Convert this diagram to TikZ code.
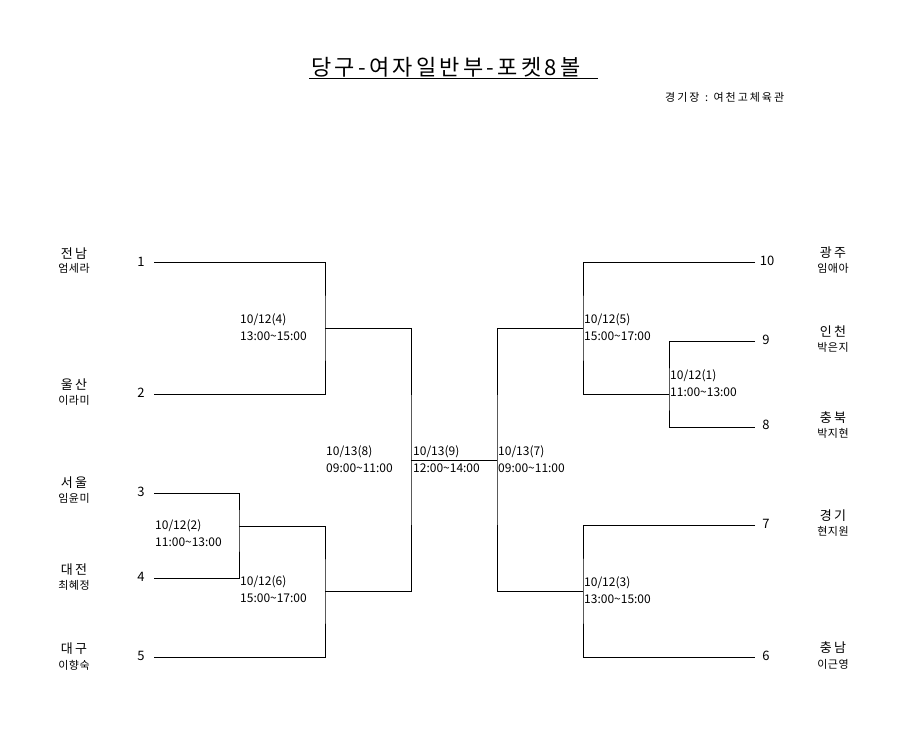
\documentclass[tikz,border=0pt]{standalone}
\usepackage{fontspec}
\setmainfont{Noto Sans CJK KR}
\usetikzlibrary{positioning}

\begin{document}
\begin{tikzpicture}[
    x=1pt,y=-1pt,
    bline/.style={line width=0.8pt},
    region/.style={inner sep=0pt,font=\fontsize{13}{15}\selectfont\addfontfeature{LetterSpace=18}},
    player/.style={inner sep=0pt,font=\fontsize{11}{12}\selectfont\addfontfeature{LetterSpace=5}},
    seed/.style={inner sep=0pt,font=\fontsize{13}{15}\selectfont},
    match/.style={inner sep=0pt,anchor=west,align=left,font=\fontsize{12}{17}\selectfont}
]
    \useasboundingbox (0,0) rectangle (900,750);

    % Title
    \node[inner sep=0pt,anchor=west,font=\fontsize{22}{26}\selectfont\addfontfeature{LetterSpace=15}] (title) at (311,67) {당구-여자일반부-포켓8볼};
    \coordinate (ul_l) at (309,78);
    \coordinate (ul_r) at (598,78);
    \draw[bline] (ul_l) -- (ul_r);
    \node[inner sep=0pt,anchor=west,font=\fontsize{11}{13}\selectfont\addfontfeature{LetterSpace=18}] (venue) at (665,97) {경기장\enspace{}:\enspace{}여천고체육관};

    % Left side entries
    \node[region] (r1) at (74,254) {전남};
    \node[player] (p1) at (74,268) {엄세라};
    \node[seed] (n1) at (141,262) {1};
    \node[region] (r2) at (74,385) {울산};
    \node[player] (p2) at (74,400) {이라미};
    \node[seed] (n2) at (141,393) {2};
    \node[region] (r3) at (74,483) {서울};
    \node[player] (p3) at (74,498) {임윤미};
    \node[seed] (n3) at (141,492) {3};
    \node[region] (r4) at (74,570) {대전};
    \node[player] (p4) at (74,585) {최혜정};
    \node[seed] (n4) at (141,577) {4};
    \node[region] (r5) at (74,649) {대구};
    \node[player] (p5) at (74,665) {이향숙};
    \node[seed] (n5) at (141,656) {5};

    \coordinate (s1) at (154,262);
    \coordinate (s2) at (154,394);
    \coordinate (s3) at (154,493);
    \coordinate (s4) at (154,578);
    \coordinate (s5) at (154,657);

    % Right side entries
    \node[region] (r10) at (833,253) {광주};
    \node[player] (p10) at (833,268) {임애아};
    \node[seed] (n10) at (767,261) {10};
    \node[region] (r9) at (833,332) {인천};
    \node[player] (p9) at (833,347) {박은지};
    \node[seed] (n9) at (766,340) {9};
    \node[region] (r8) at (833,418) {충북};
    \node[player] (p8) at (833,433) {박지현};
    \node[seed] (n8) at (766,425) {8};
    \node[region] (r7) at (833,516) {경기};
    \node[player] (p7) at (833,531) {현지원};
    \node[seed] (n7) at (766,524) {7};
    \node[region] (r6) at (833,648) {충남};
    \node[player] (p6) at (833,664) {이근영};
    \node[seed] (n6) at (766,656) {6};

    \coordinate (e10) at (755,262);
    \coordinate (e9) at (755,341);
    \coordinate (e8) at (755,427);
    \coordinate (e7) at (755,525);
    \coordinate (e6) at (755,657);

    % Bracket joints
    \coordinate (j4) at (325,328);
    \coordinate (j2) at (239,526);
    \coordinate (j6) at (325,591);
    \coordinate (j8) at (411,460);
    \coordinate (j7) at (497,460);
    \coordinate (j5) at (583,328);
    \coordinate (j1) at (669,394);
    \coordinate (j3) at (583,591);

    \draw[bline] (s1) -| (j4) |- (s2);
    \draw[bline] (s3) -| (j2) |- (s4);
    \draw[bline] (j2) -| (j6) |- (s5);
    \draw[bline] (j4) -| (j8) |- (j6);
    \draw[bline] (j8) -- (j7);
    \draw[bline] (e10) -| (j5) |- (j1);
    \draw[bline] (e9) -| (j1) |- (e8);
    \draw[bline] (e7) -| (j3) |- (e6);
    \draw[bline] (j5) -| (j7) |- (j3);

    % Match dates
    \node[match] (m4) at (240,327) {10/12(4)\\13:00\textasciitilde15:00};
    \node[match] (m2) at (155,533) {10/12(2)\\11:00\textasciitilde13:00};
    \node[match] (m6) at (240,589) {10/12(6)\\15:00\textasciitilde17:00};
    \node[match] (m8) at (326,459) {10/13(8)\\09:00\textasciitilde11:00};
    \node[match] (m9) at (413,459) {10/13(9)\\12:00\textasciitilde14:00};
    \node[match] (m7) at (498,459) {10/13(7)\\09:00\textasciitilde11:00};
    \node[match] (m5) at (584,327) {10/12(5)\\15:00\textasciitilde17:00};
    \node[match] (m1) at (670,383) {10/12(1)\\11:00\textasciitilde13:00};
    \node[match] (m3) at (584,590) {10/12(3)\\13:00\textasciitilde15:00};
\end{tikzpicture}
\end{document}
